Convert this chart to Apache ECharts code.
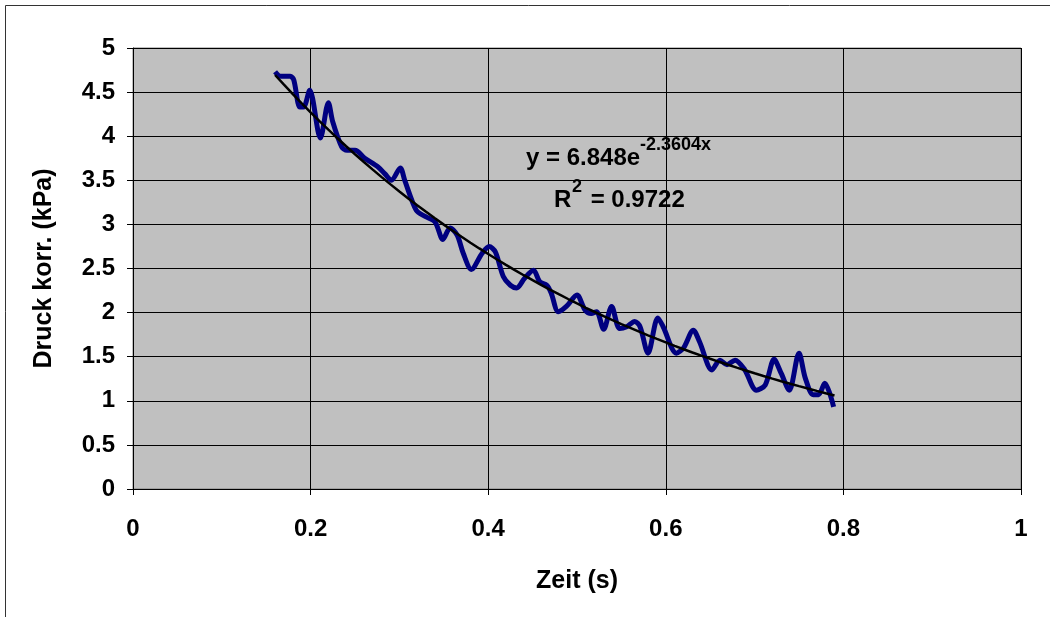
<!DOCTYPE html>
<html>
<head>
<meta charset="utf-8">
<script src="https://cdn.jsdelivr.net/npm/echarts@6/dist/echarts.min.js"></script>
<style>
  html, body { margin: 0; padding: 0; background: #fff; }
  #chart { width: 1050px; height: 617px; }
</style>
</head>
<body>
<div id="chart"></div>
<script>
// Measured pressure over time
const timeS = [0.160, 0.166, 0.177, 0.181, 0.188, 0.192, 0.199, 0.211, 0.220, 0.225,
  0.235, 0.241, 0.250, 0.261, 0.276, 0.284, 0.291, 0.301, 0.306, 0.319,
  0.329, 0.340, 0.349, 0.357, 0.365, 0.372, 0.381, 0.393, 0.401, 0.408,
  0.417, 0.425, 0.432, 0.441, 0.451, 0.458, 0.466, 0.471, 0.479, 0.488,
  0.500, 0.509, 0.516, 0.522, 0.530, 0.539, 0.548, 0.556, 0.565, 0.571,
  0.580, 0.591, 0.597, 0.612, 0.620, 0.631, 0.638, 0.652, 0.661, 0.669,
  0.678, 0.689, 0.702, 0.712, 0.722, 0.730, 0.739, 0.750, 0.757, 0.766,
  0.772, 0.779, 0.789];
const pressureKPa = [4.73, 4.68, 4.68, 4.64, 4.33, 4.33, 4.52, 3.98, 4.38, 4.16,
  3.88, 3.84, 3.84, 3.75, 3.65, 3.57, 3.50, 3.64, 3.50, 3.16,
  3.09, 3.03, 2.83, 2.96, 2.88, 2.67, 2.49, 2.67, 2.75, 2.69,
  2.41, 2.31, 2.28, 2.39, 2.48, 2.35, 2.31, 2.22, 2.01, 2.07,
  2.20, 2.03, 1.99, 2.01, 1.81, 2.07, 1.82, 1.84, 1.90, 1.84,
  1.54, 1.94, 1.84, 1.54, 1.60, 1.80, 1.67, 1.35, 1.46, 1.41,
  1.46, 1.35, 1.12, 1.18, 1.47, 1.31, 1.12, 1.54, 1.26, 1.07,
  1.07, 1.20, 0.93];

// Exponential fit y = a * e^(b x), as stated in the label
const fitA = 6.848;
const fitB = -2.3604;
const fitR2 = 0.9722;
const fitRange = [0.16, 0.79];

const xTicks = [0, 0.2, 0.4, 0.6, 0.8, 1];
const yTicks = [0, 0.5, 1, 1.5, 2, 2.5, 3, 3.5, 4, 4.5, 5];

const measured = timeS.map((t, i) => [t, pressureKPa[i]]);
const fitLine = [];
for (let k = 0; k <= 63; k++) {
  const t = fitRange[0] + (fitRange[1] - fitRange[0]) * k / 63;
  fitLine.push([t, fitA * Math.exp(fitB * t)]);
}

const FONT = '"Liberation Sans", Arial, sans-serif';
const MAIN = 'bold 24px ' + FONT;
const SUP = 'bold 18px ' + FONT;

const chart = echarts.init(document.getElementById('chart'));
chart.setOption({
  animation: false,
  backgroundColor: '#fff',
  grid: {
    left: 133, right: 29, top: 48, bottom: 128,
    show: true, backgroundColor: '#C0C0C0', borderColor: '#808080', borderWidth: 1
  },
  xAxis: {
    type: 'value', min: 0, max: 1, interval: 0.2,
    name: 'Zeit (s)', nameLocation: 'middle', nameGap: 80,
    nameTextStyle: { fontFamily: FONT, fontWeight: 'bold', fontSize: 25, color: '#000' },
    axisLine: { onZero: false, lineStyle: { color: '#000', width: 1 } },
    axisTick: { show: true, inside: false, length: 6, lineStyle: { color: '#000' } },
    axisLabel: { margin: 28, fontFamily: FONT, fontWeight: 'bold', fontSize: 24, color: '#000',
      formatter: v => String(xTicks.find(t => Math.abs(t - v) < 1e-9) ?? v) },
    splitLine: { show: true, lineStyle: { color: '#000', width: 1 } }
  },
  yAxis: {
    type: 'value', min: 0, max: 5, interval: 0.5,
    name: 'Druck korr. (kPa)', nameLocation: 'middle', nameGap: 76, nameRotate: 90,
    nameTextStyle: { fontFamily: FONT, fontWeight: 'bold', fontSize: 25, color: '#000' },
    axisLine: { show: true, lineStyle: { color: '#000', width: 1 } },
    axisTick: { show: true, inside: false, length: 6, lineStyle: { color: '#000' } },
    axisLabel: { margin: 18, fontFamily: FONT, fontWeight: 'bold', fontSize: 24, color: '#000',
      formatter: v => String(yTicks.find(t => Math.abs(t - v) < 1e-9) ?? v) },
    splitLine: { show: true, lineStyle: { color: '#000', width: 1 } }
  },
  series: [
    {
      type: 'line', data: measured, showSymbol: false, smooth: 0.3,
      lineStyle: { color: '#000080', width: 5 }, z: 2
    },
    {
      type: 'line', data: fitLine, showSymbol: false,
      lineStyle: { color: '#000', width: 2.5 }, z: 3
    }
  ],
  graphic: [
    { type: 'rect', shape: { x: 5.5, y: 5.5, width: 1060, height: 640 },
      style: { fill: 'none', stroke: '#333', lineWidth: 1 }, silent: true },
    { type: 'text', left: 526, top: 146,
      style: { text: 'y = ' + fitA + 'e', font: MAIN, fill: '#000' } },
    { type: 'text', left: 640, top: 136,
      style: { text: String(fitB) + 'x', font: SUP, fill: '#000' } },
    { type: 'text', left: 554, top: 188,
      style: { text: 'R', font: MAIN, fill: '#000' } },
    { type: 'text', left: 572, top: 178,
      style: { text: '2', font: SUP, fill: '#000' } },
    { type: 'text', left: 584, top: 188,
      style: { text: ' = ' + fitR2, font: MAIN, fill: '#000' } }
  ]
});
</script>
</body>
</html>
